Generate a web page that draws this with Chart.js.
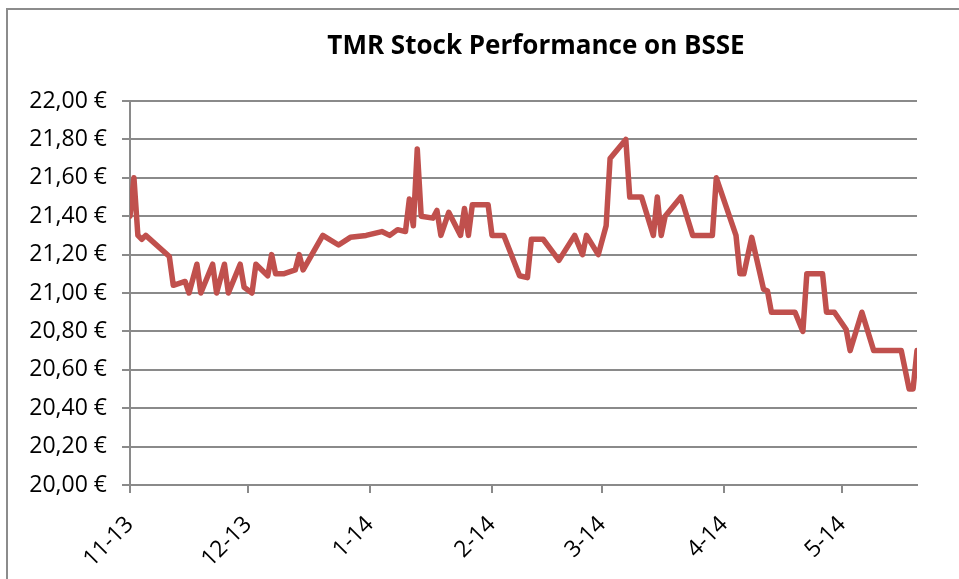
<!DOCTYPE html>
<html>
<head>
<meta charset="utf-8">
<title>TMR Stock Performance on BSSE</title>
<script src="https://cdn.jsdelivr.net/npm/chart.js@4.4.0/dist/chart.umd.min.js"></script>
<style>
    html, body { margin: 0; padding: 0; background: #fff; }
    #wrap { width: 959px; height: 579px; }
</style>
</head>
<body>
<div id="wrap"><canvas id="stockChart" width="959" height="579"></canvas></div>
<script>
var chartTitle = 'TMR Stock Performance on BSSE';

var tradeDates = [
    '2013-11-01', '2013-11-02', '2013-11-03', '2013-11-04', '2013-11-05', '2013-11-11', '2013-11-12',
    '2013-11-15', '2013-11-16', '2013-11-18', '2013-11-19', '2013-11-22', '2013-11-23', '2013-11-25',
    '2013-11-26', '2013-11-29', '2013-11-30', '2013-12-02', '2013-12-03', '2013-12-06', '2013-12-07',
    '2013-12-08', '2013-12-10', '2013-12-13', '2013-12-14', '2013-12-15', '2013-12-20', '2013-12-24',
    '2013-12-27', '2013-12-31', '2014-01-04', '2014-01-06', '2014-01-08', '2014-01-10', '2014-01-11',
    '2014-01-12', '2014-01-13', '2014-01-14', '2014-01-17', '2014-01-18', '2014-01-19', '2014-01-21',
    '2014-01-24', '2014-01-25', '2014-01-26', '2014-01-27', '2014-01-31', '2014-02-01', '2014-02-04',
    '2014-02-08', '2014-02-10', '2014-02-11', '2014-02-14', '2014-02-18', '2014-02-22', '2014-02-24',
    '2014-02-25', '2014-02-28', '2014-03-02', '2014-03-03', '2014-03-07', '2014-03-08', '2014-03-11',
    '2014-03-14', '2014-03-15', '2014-03-16', '2014-03-17', '2014-03-21', '2014-03-24', '2014-03-29',
    '2014-03-30', '2014-04-04', '2014-04-05', '2014-04-06', '2014-04-08', '2014-04-11', '2014-04-12',
    '2014-04-13', '2014-04-19', '2014-04-21', '2014-04-22', '2014-04-26', '2014-04-27', '2014-04-29',
    '2014-05-02', '2014-05-03', '2014-05-06', '2014-05-09', '2014-05-16', '2014-05-18', '2014-05-19',
    '2014-05-20'
];

var closePrices = [
    21.40, 21.60, 21.30, 21.28, 21.30, 21.19, 21.04,
    21.06, 21.00, 21.15, 21.00, 21.15, 21.00, 21.15,
    21.00, 21.15, 21.03, 21.00, 21.15, 21.09, 21.20,
    21.10, 21.10, 21.12, 21.20, 21.12, 21.30, 21.25,
    21.29, 21.30, 21.32, 21.30, 21.33, 21.32, 21.49,
    21.35, 21.75, 21.40, 21.39, 21.43, 21.30, 21.42,
    21.30, 21.44, 21.30, 21.46, 21.46, 21.30, 21.30,
    21.09, 21.08, 21.28, 21.28, 21.17, 21.30, 21.20,
    21.30, 21.20, 21.35, 21.70, 21.80, 21.50, 21.50,
    21.30, 21.50, 21.30, 21.40, 21.50, 21.30, 21.30,
    21.60, 21.30, 21.10, 21.10, 21.29, 21.02, 21.01,
    20.90, 20.90, 20.80, 21.10, 21.10, 20.90, 20.90,
    20.81, 20.70, 20.90, 20.70, 20.70, 20.50, 20.50,
    20.70
];

var monthTicks = ['2013-11-01', '2013-12-01', '2014-01-01', '2014-02-01', '2014-03-01', '2014-04-01', '2014-05-01'];
var axisStart = '2013-11-01';
var axisEnd = '2014-05-20';
var yMin = 20.0;
var yMax = 22.0;
var yStep = 0.2;

var gridGray = '#8a8a8a';
var lineRed = '#C0504D';
var fontFamily = '"Open Sans", "Liberation Sans", sans-serif';

var points = tradeDates.map(function(d, i) {
    return { x: Date.parse(d), y: closePrices[i] };
});

function monthLabel(ms) {
    var dt = new Date(ms);
    var yy = String(dt.getUTCFullYear()).slice(2);
    return (dt.getUTCMonth() + 1) + '-' + yy;
}

// frame around the chart + title, drawn like the spreadsheet export
var framePlugin = {
    id: 'frame',
    beforeDraw: function(chart) {
        var ctx = chart.ctx;
        ctx.save();
        ctx.fillStyle = '#ffffff';
        ctx.fillRect(0, 0, chart.width, chart.height);
        ctx.strokeStyle = '#8c8c8c';
        ctx.lineWidth = 2;
        ctx.strokeRect(7, 9, 1200, 1200);
        ctx.restore();
    },
    afterDraw: function(chart) {
        var ctx = chart.ctx;
        ctx.save();
        ctx.fillStyle = '#000';
        ctx.font = 'bold 26px ' + fontFamily;
        ctx.textAlign = 'center';
        ctx.textBaseline = 'middle';
        ctx.fillText(chartTitle, 536, 47);
        ctx.restore();
    }
};

var ctx = document.getElementById('stockChart').getContext('2d');
var stockChart = new Chart(ctx, {
    type: 'line',
    data: {
        datasets: [{
            label: 'TMR',
            data: points,
            borderColor: lineRed,
            backgroundColor: lineRed,
            borderWidth: 5.5,
            pointRadius: 0,
            tension: 0,
            borderJoinStyle: 'round',
            borderCapStyle: 'round'
        }]
    },
    options: {
        responsive: false,
        animation: false,
        layout: { padding: { left: 0, right: 42, top: 101, bottom: 0 } },
        plugins: {
            legend: { display: false },
            title: { display: false },
            tooltip: { enabled: false }
        },
        scales: {
            x: {
                type: 'linear',
                min: Date.parse(axisStart),
                max: Date.parse(axisEnd),
                afterBuildTicks: function(scale) {
                    scale.ticks = monthTicks.map(function(m) { return { value: Date.parse(m) }; });
                },
                afterFit: function(scale) { scale.height = 94; },
                ticks: {
                    autoSkip: false,
                    minRotation: 45,
                    maxRotation: 45,
                    padding: 18,
                    color: '#000',
                    font: { family: fontFamily, size: 23 },
                    callback: function(value) { return monthLabel(value); }
                },
                grid: {
                    drawOnChartArea: false,
                    drawTicks: true,
                    tickLength: 8,
                    color: gridGray,
                    lineWidth: 2
                },
                border: { display: true, color: gridGray, width: 2 }
            },
            y: {
                min: yMin,
                max: yMax,
                afterFit: function(scale) { scale.width = 130; },
                ticks: {
                    stepSize: yStep,
                    padding: 15,
                    color: '#000',
                    font: { family: fontFamily, size: 23 },
                    callback: function(value) {
                        return value.toFixed(2).replace('.', ',') + ' €';
                    }
                },
                grid: {
                    color: gridGray,
                    lineWidth: 2,
                    tickLength: 8
                },
                border: { display: true, color: gridGray, width: 2 }
            }
        }
    },
    plugins: [framePlugin]
});
</script>
</body>
</html>
